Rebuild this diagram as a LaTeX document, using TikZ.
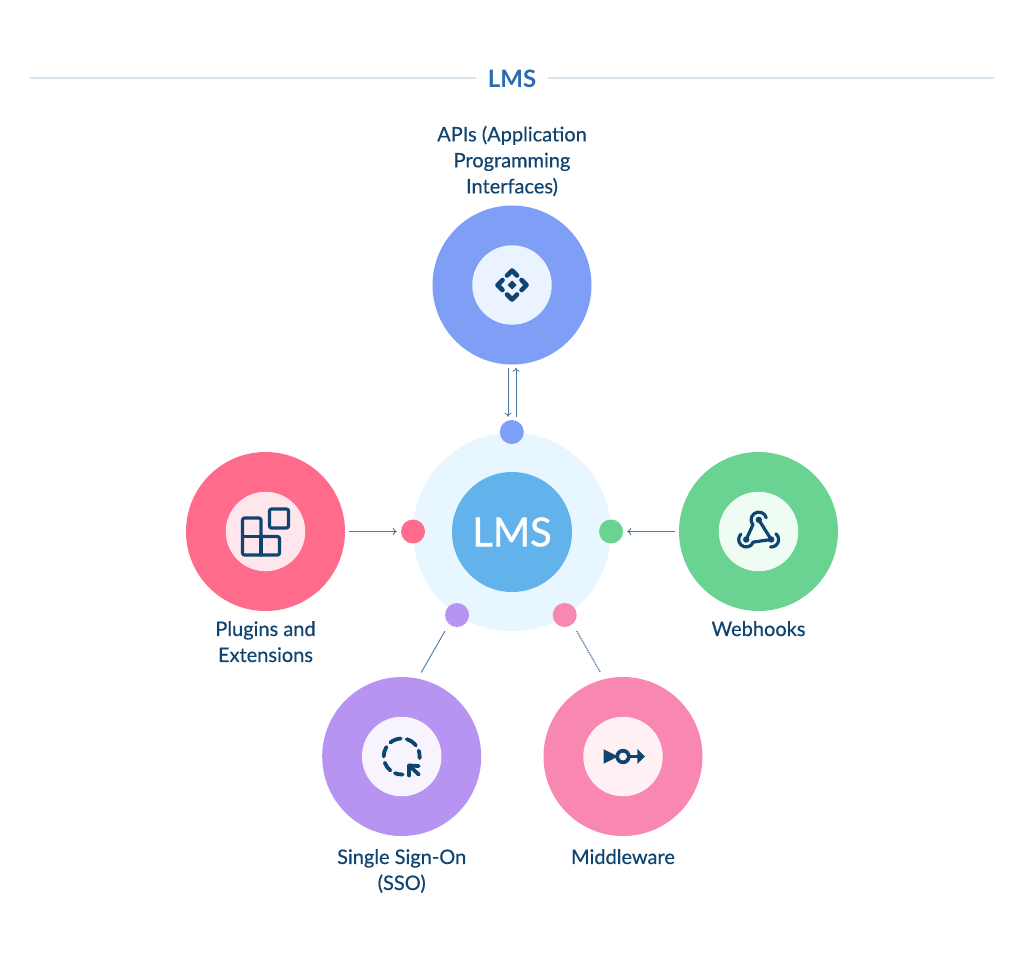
\documentclass[tikz,border=0pt]{standalone}
\usepackage{fontspec}
\setmainfont{Lato}
\newfontfamily\thickfont[FakeBold=0.35]{Lato}
\newfontfamily\hubfont[FakeBold=1]{Lato}
\usetikzlibrary{arrows.meta,positioning,calc}
\definecolor{navy}{HTML}{0F4470}
\definecolor{headblue}{HTML}{2A6CB0}
\definecolor{rulecol}{HTML}{D6E4F0}
\definecolor{wirecol}{HTML}{5079A0}
\definecolor{apicol}{HTML}{7F9EF5}
\definecolor{apiin}{HTML}{EAF3FF}
\definecolor{plugcol}{HTML}{FF6B8A}
\definecolor{plugin}{HTML}{FFE6EC}
\definecolor{hookcol}{HTML}{6BD391}
\definecolor{hookin}{HTML}{EFFCF4}
\definecolor{ssocol}{HTML}{B894F2}
\definecolor{ssoin}{HTML}{F8F4FE}
\definecolor{midcol}{HTML}{F887B2}
\definecolor{midin}{HTML}{FFF0F4}
\definecolor{lmscol}{HTML}{62B2EC}
\definecolor{halocol}{HTML}{E8F6FF}
\tikzset{
  % big ring and its pale middle
  ring/.style={circle, fill=#1, inner sep=0pt, minimum size=159pt},
  core/.style={circle, fill=#1, inner sep=0pt, minimum size=79.5pt},
  dot/.style={circle, fill=#1, inner sep=0pt, minimum size=24pt},
  caption/.style={align=center, text=navy, font=\thickfont\fontsize{20}{26}\selectfont},
  wire/.style={draw=wirecol, line width=0.9pt},
  icon/.style={draw=navy, line width=3.2pt, line cap=round, line join=round}}

\begin{document}
\begin{tikzpicture}[
    x=1pt,
    y=-1pt,
    >={To[length=4pt,width=7pt]},
    ]

\useasboundingbox (0,0) rectangle (1024,959);
\fill [white] (0,0) rectangle (1024,959);

\node (headtitle) [text=headblue, inner xsep=12pt, font=\fontsize{24}{28}\selectfont\bfseries] at (512,79) {LMS};
\coordinate (ruleleft) at (30,78);
\coordinate (ruleright) at (994,78);
\draw [rulecol, line width=1.2pt] (ruleleft) -- (ruleleft -| headtitle.west);
\draw [rulecol, line width=1.2pt] (ruleright -| headtitle.east) -- (ruleright);

% hub
\node (halo) [circle, fill=halocol, inner sep=0pt, minimum size=198pt] at (512,532) {};
\node (lms) [circle, fill=lmscol, inner sep=0pt, minimum size=120pt, text=white, font=\hubfont\fontsize{40}{46}\selectfont] at (halo) {LMS};

\node (dotapi) [dot=apicol] at (511.8,432) {};
\node (dotplug) [dot=plugcol] at (413,531.5) {};
\node (dothook) [dot=hookcol] at (611,531.5) {};
\node (dotsso) [dot=ssocol] at (457,615) {};
\node (dotmid) [dot=midcol] at (564.7,615) {};

% outer rings
\node (apis) [ring=apicol] at (512,285) {};
\node (apiscore) [core=apiin] at (apis) {};
\node (plugins) [ring=plugcol] at (265.5,531.5) {};
\node (pluginscore) [core=plugin] at (plugins) {};
\node (hooks) [ring=hookcol] at (758.5,531.5) {};
\node (hookscore) [core=hookin] at (hooks) {};
\node (sso) [ring=ssocol] at (401.7,756.5) {};
\node (ssocore) [core=ssoin] at (sso) {};
\node (middle) [ring=midcol] at (623,756.5) {};
\node (middlecore) [core=midin] at (middle) {};

\node (apislabel) [caption, above, yshift=5.5pt] at (apis.north) {APIs (Application\\Programming\\Interfaces)};
\node (pluginslabel) [caption, below, yshift=-6.5pt] at (plugins.south) {Plugins and\\Extensions};
\node (hookslabel) [caption, below, yshift=-6.5pt] at (hooks.south) {Webhooks};
\node (ssolabel) [caption, below, yshift=-9.5pt] at (sso.south) {Single Sign-On\\(SSO)};
\node (middlelabel) [caption, below, yshift=-9.5pt] at (middle.south) {Middleware};

% connectors
\coordinate (apidown) at ($(apis.south)+(-4,3)$);
\coordinate (apiup) at ($(apis.south)+(4,3)$);
\draw [wire, ->, shorten >=3pt] (apidown) -- (apidown |- dotapi.north);
\draw [wire, <-, shorten >=3pt] (apiup) -- (apiup |- dotapi.north);
\draw [wire, ->, shorten <=3.5pt, shorten >=4pt] (plugins.east) -- (dotplug.west);
\draw [wire, ->, shorten <=4pt, shorten >=4pt] (hooks.west) -- (dothook.east);
\coordinate (ssolow) at ($(dotsso)+(-12,16)$);
\coordinate (ssotop) at ($(sso)+(19.5,-84)$);
\coordinate (midlow) at ($(dotmid)+(12,16)$);
\coordinate (midtop) at ($(middle)+(-22.5,-84)$);
\draw [wire] (ssolow) -- (ssotop);
\draw [wire, line width=1.2pt, dash pattern=on 1.2pt off 0.8pt] (midlow) -- (midtop);

% api icon
\begin{scope}[shift={(apis)}]
\draw [icon, line width=4.6pt] (-5,-9.5) -- (0,-14.5) -- (5,-9.5);
\draw [icon, line width=4.6pt] (-5,9.5) -- (0,14.5) -- (5,9.5);
\draw [icon, line width=4.6pt] (-9.5,-5) -- (-14.5,0) -- (-9.5,5);
\draw [icon, line width=4.6pt] (9.5,-5) -- (14.5,0) -- (9.5,5);
\fill [navy] (-4.5,0) -- (0,-4.5) -- (4.5,0) -- (0,4.5) -- cycle;
\end{scope}

% plugins icon
\begin{scope}[shift={(plugins)}]
\draw [icon, rounded corners=2pt] (4,-22.5) rectangle (23,-3.5);
\draw [icon, rounded corners=2pt] (-23,-13.5) -- (-4.5,-13.5) -- (-4.5,5) -- (14,5) -- (14,23.5) -- (-23,23.5) -- cycle;
\draw [icon] (-4.5,5) -- (-4.5,23.5);
\draw [icon] (-23,5) -- (-4.5,5);
\end{scope}

% webhooks icon
\begin{scope}[shift={(hooks)}]
\draw [icon] (-12.3,8) -- (-5.6,-6.8) arc[start angle=220, end angle=15, radius=7.7pt];
\draw [icon] (0.3,-11.7) -- (12.7,8);
\draw [icon] (-17.6,2.7) arc[start angle=135, end angle=340, radius=7.5pt] -- (12.7,8);
\draw [icon] (12,15.5) arc[start angle=-95, end angle=50, radius=7.5pt];
\fill [navy] (0.3,-11.7) circle (3.2pt) (-12.3,8) circle (3.2pt) (12.7,8) circle (3.2pt);
\end{scope}

% sso icon
\begin{scope}[shift={(sso)}]
\foreach \from/\to in {19/-5, 74/38, 129/93, 180/148, 231/200, 273/248}
  \draw [icon, line width=3.8pt] (\from:18pt) arc[start angle=\from, end angle=\to, radius=18pt];
\draw [icon, line width=3.8pt] (7.5,9) -- (7.5,19);
\draw [icon, line width=3.8pt] (7.5,9) -- (17,9.5);
\draw [icon, line width=3.8pt] (7.5,9) -- (17,18);
\end{scope}

% middleware icon
\begin{scope}[shift={(middle)}]
\fill [navy] (-19.5,-7.3) -- (-8.5,-1.8) -- (-8.5,1.8) -- (-19.5,7.3) -- cycle;
\fill [navy] (14.3,-7.7) -- (22,0) -- (14.3,7.3) -- cycle;
\draw [navy, line width=3.7pt] (7,0) -- (15,0);
\draw [navy, line width=3.7pt] (-10,0) -- (-5,0);
\draw [navy, line width=3.7pt, fill=midin] (0,0) circle (5.8pt);
\end{scope}

\end{tikzpicture}
\end{document}
